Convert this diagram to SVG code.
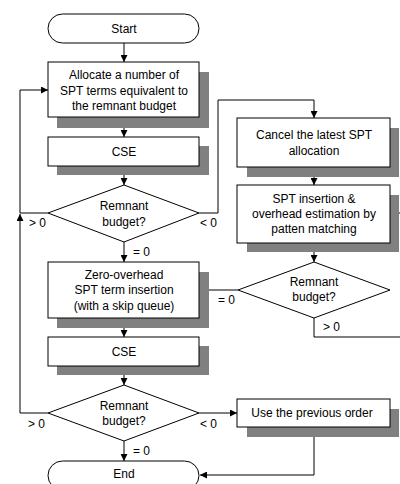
<svg xmlns="http://www.w3.org/2000/svg" width="400" height="484" viewBox="0 0 400 484">
  <style>
    .box { fill: #ffffff; stroke: #000000; stroke-width: 1; }
    .shadow { fill: #808080; stroke: none; }
    .conn { fill: none; stroke: #000000; stroke-width: 1; }
    text { font-family: "Liberation Sans", Arial, sans-serif; font-size: 12px; fill: #000000; }
    .c { text-anchor: middle; }
  </style>
  <defs>
    <marker id="arrow" viewBox="0 0 10 10" refX="10" refY="5" markerWidth="8" markerHeight="7" markerUnits="userSpaceOnUse" orient="auto">
      <path d="M0,0 L10,5 L0,10 Z" fill="#000000"/>
    </marker>
  </defs>
  <rect width="400" height="484" fill="#ffffff"/>

  <!-- connectors -->
  <g id="connectors">
    <path class="conn" d="M124,43 V62" marker-end="url(#arrow)"/>
    <path class="conn" d="M124,117 V137" marker-end="url(#arrow)"/>
    <path class="conn" d="M124,166 V185" marker-end="url(#arrow)"/>
    <path class="conn" d="M124,242 V262" marker-end="url(#arrow)"/>
    <path class="conn" d="M124,318 V337" marker-end="url(#arrow)"/>
    <path class="conn" d="M124,366 V385" marker-end="url(#arrow)"/>
    <path class="conn" d="M124,441 V461" marker-end="url(#arrow)"/>
    <!-- feedback loops on the left -->
    <path class="conn" d="M48,213 H20 V90 H48" marker-end="url(#arrow)"/>
    <path class="conn" d="M48,413 H20 V214" marker-end="url(#arrow)"/>
    <!-- negative branch to the right column -->
    <path class="conn" d="M199,213 H218 V100 H314 V118" marker-end="url(#arrow)"/>
    <path class="conn" d="M314,167 V185" marker-end="url(#arrow)"/>
    <path class="conn" d="M314,243 V262" marker-end="url(#arrow)"/>
    <path class="conn" d="M238,290 H200" marker-end="url(#arrow)"/>
    <path class="conn" d="M314,318 V337 H400"/>
    <path class="conn" d="M400,213 H390" marker-end="url(#arrow)"/>
    <path class="conn" d="M199,413 H237" marker-end="url(#arrow)"/>
    <path class="conn" d="M314,427 V475 H200" marker-end="url(#arrow)"/>
  </g>

  <!-- branch labels -->
  <g id="labels">
    <text x="29" y="227">&gt; 0</text>
    <text x="200" y="227">&lt; 0</text>
    <text x="133" y="256">= 0</text>
    <text x="218" y="304">= 0</text>
    <text x="323" y="331">&gt; 0</text>
    <text x="28" y="428">&gt; 0</text>
    <text x="200" y="428">&lt; 0</text>
    <text x="133" y="455">= 0</text>
  </g>

  <g id="start">
    <rect class="box" x="48" y="14" width="151" height="29" rx="14.5" ry="14.5"/>
    <text class="c" x="124" y="33">Start</text>
  </g>

  <g id="allocate">
    <rect class="shadow" x="57" y="72" width="152" height="56"/>
    <rect class="box" x="48" y="62" width="151" height="55"/>
    <text class="c" x="124" y="79">Allocate a number of</text>
    <text class="c" x="124" y="94.5">SPT terms equivalent to</text>
    <text class="c" x="124" y="110">the remnant budget</text>
  </g>

  <g id="cse1">
    <rect class="shadow" x="57" y="146" width="152" height="29"/>
    <rect class="box" x="48" y="137" width="151" height="29"/>
    <text class="c" x="124" y="155.5">CSE</text>
  </g>

  <g id="decision1">
    <polygon class="box" points="124,185 199,213 124,242 48,213"/>
    <text class="c" x="124" y="210">Remnant</text>
    <text class="c" x="124" y="226">budget?</text>
  </g>

  <g id="cancel">
    <rect class="shadow" x="247" y="128" width="152" height="49"/>
    <rect class="box" x="237" y="118" width="153" height="49"/>
    <text class="c" x="314" y="139">Cancel the latest SPT</text>
    <text class="c" x="314" y="155">allocation</text>
  </g>

  <g id="insertion">
    <rect class="shadow" x="247" y="195" width="152" height="57"/>
    <rect class="box" x="237" y="185" width="153" height="58"/>
    <text class="c" x="314" y="203">SPT insertion &amp;</text>
    <text class="c" x="314" y="218">overhead estimation by</text>
    <text class="c" x="314" y="233">patten matching</text>
  </g>

  <g id="decision2">
    <polygon class="box" points="314,262 390,290 314,318 238,290"/>
    <text class="c" x="314" y="286">Remnant</text>
    <text class="c" x="314" y="301">budget?</text>
  </g>

  <g id="zero-overhead">
    <rect class="shadow" x="57" y="272" width="152" height="56"/>
    <rect class="box" x="48" y="262" width="151" height="56"/>
    <text class="c" x="124" y="279">Zero-overhead</text>
    <text class="c" x="124" y="294">SPT term insertion</text>
    <text class="c" x="124" y="310">(with a skip queue)</text>
  </g>

  <g id="cse2">
    <rect class="shadow" x="57" y="346" width="152" height="29"/>
    <rect class="box" x="48" y="337" width="151" height="29"/>
    <text class="c" x="124" y="356">CSE</text>
  </g>

  <g id="decision3">
    <polygon class="box" points="124,385 199,413 124,441 48,413"/>
    <text class="c" x="124" y="410">Remnant</text>
    <text class="c" x="124" y="425">budget?</text>
  </g>

  <g id="previous-order">
    <rect class="shadow" x="247" y="409" width="152" height="28"/>
    <rect class="box" x="237" y="399" width="153" height="28"/>
    <text class="c" x="312" y="417">Use the previous order</text>
  </g>

  <g id="end">
    <rect class="box" x="48" y="461" width="151" height="29" rx="14.5" ry="14.5"/>
    <text class="c" x="124" y="478">End</text>
  </g>
</svg>
